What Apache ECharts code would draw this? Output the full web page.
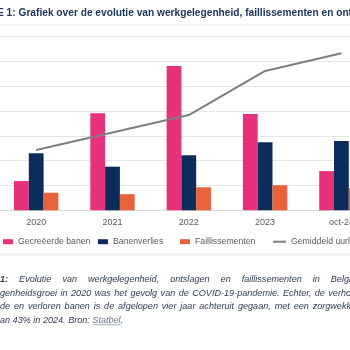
<!DOCTYPE html>
<html><head><meta charset="utf-8">
<script src="https://cdn.jsdelivr.net/npm/echarts@6/dist/echarts.min.js"></script>
<style>html,body{margin:0;padding:0;background:#fff;overflow:hidden}#c{width:350px;height:350px}</style>
</head><body><div id="c"></div>
<script>
// ---- data ----
const categories = ['2020', '2021', '2022', '2023', 'oct-24'];
const createdJobs = [11.8, 39.1, 58.2, 38.8, 15.8];
const jobLoss = [23.0, 17.6, 22.2, 27.4, 27.9];
const bankruptcies = [7.1, 6.5, 9.3, 10.1, 9.0];
const averageLine = [24.3, 31.4, 38.4, 56.2, 63.3];
const seriesNames = ['Gecreëerde banen', 'Banenverlies', 'Faillissementen', 'Gemiddeld uurloon'];
const yMin = 0, yMax = 70, yInterval = 10;

const titleText = 'E 1: Grafiek over de evolutie van werkgelegenheid, faillissementen en ontslagen';
const titleVisible = 'E 1: Grafiek over de evolutie van werkgelegenheid, faillissementen en on';
const captionLines = [
  {words: ['1:', 'Evolutie', 'van', 'werkgelegenheid,', 'ontslagen', 'en', 'faillissementen', 'in', 'België.'], lastVisible: 'Belgi'},
  {words: 'genheidsgroei in 2020 was het gevolg van de COVID-19-pandemie. Echter, de verhouding'.split(' '), lastVisible: 'verho'},
  {words: 'de en verloren banen is de afgelopen vier jaar achteruit gegaan, met een zorgwekkende'.split(' '), lastVisible: 'zorgwekk'}
];
const captionLast = 'an 43% in 2024. Bron: ';
const captionLink = 'Statbel';

// ---- colours ----
const C_PINK = '#E6327B', C_NAVY = '#0C2D5B', C_ORANGE = '#E8623B', C_LINE = '#7F7F7F';
const C_TEXT = '#595959', C_CAP = '#2F3B55', C_TITLE = '#1E3760';

const FONT = 'Liberation Sans';
const ctx = document.createElement('canvas').getContext('2d');
function mw(t, font) { ctx.font = font; return ctx.measureText(t).width; }

const graphics = [];
// separators
graphics.push({type: 'rect', shape: {x: 0, y: 24.5, width: 350, height: 1.2}, style: {fill: '#ECECEC'}, silent: true});
graphics.push({type: 'rect', shape: {x: 0, y: 253.5, width: 350, height: 2}, style: {fill: '#EEEEEE'}, silent: true});

// title fitted to visible width
const tW = mw(titleVisible, 'bold 10px "' + FONT + '"');
const tSize = 10 * 352 / tW;
graphics.push({type: 'text', x: -3, y: 13, style: {text: titleText, font: 'bold ' + tSize.toFixed(2) + 'px "' + FONT + '"', fill: C_TITLE, verticalAlign: 'middle'}, silent: true});

// caption
const capSize = 9 * 123.3 / mw(captionLast + captionLink + '.', 'italic 9px "' + FONT + '"');
const capFont = 'italic ' + capSize.toFixed(2) + 'px "' + FONT + '"';
const capBold = 'italic bold ' + capSize.toFixed(2) + 'px "' + FONT + '"';
const capY = [279, 293, 306.6, 320.2];
captionLines.forEach((ln, i) => {
  const fonts = ln.words.map((w, j) => (i === 0 && j === 0) ? capBold : capFont);
  const widths = ln.words.map((w, j) => mw(w, fonts[j]));
  const n = ln.words.length;
  const lastStart = 351 - mw(ln.lastVisible, capFont);
  let inner = 0;
  for (let j = 0; j < n - 1; j++) inner += widths[j];
  const gap = (lastStart - 0 - inner) / (n - 1);
  let x = 0;
  for (let j = 0; j < n; j++) {
    graphics.push({type: 'text', x: x, y: capY[i], style: {text: ln.words[j], font: fonts[j], fill: C_CAP, verticalAlign: 'middle'}, silent: true});
    x += widths[j] + gap;
  }
});
const lastW = mw(captionLast, capFont);
const linkW = mw(captionLink, capFont);
graphics.push({type: 'text', x: 0, y: capY[3], style: {text: captionLast, font: capFont, fill: C_CAP, verticalAlign: 'middle'}, silent: true});
graphics.push({type: 'text', x: lastW, y: capY[3], style: {text: captionLink, font: capFont, fill: '#6B7890', verticalAlign: 'middle'}, silent: true});
graphics.push({type: 'rect', shape: {x: lastW, y: capY[3] + 4.2, width: linkW, height: 0.8}, style: {fill: '#8C96A8'}, silent: true});
graphics.push({type: 'text', x: lastW + linkW, y: capY[3], style: {text: '.', font: capFont, fill: C_CAP, verticalAlign: 'middle'}, silent: true});

const legendBase = {top: 235.7, padding: 0, itemHeight: 5, itemWidth: 10, selectedMode: false,
  textStyle: {fontFamily: FONT, fontSize: 8.7, color: C_TEXT, lineHeight: 12}};
const chart = echarts.init(document.getElementById('c'), null, {renderer: 'canvas'});
chart.setOption({
  animation: false,
  backgroundColor: '#fff',
  grid: {left: -1.95, right: -29.55, top: 36.7, bottom: 139.7, containLabel: false, outerBoundsMode: 'none'},
  legend: [
    Object.assign({}, legendBase, {data: [{name: seriesNames[0], icon: 'rect'}], left: 3}),
    Object.assign({}, legendBase, {data: [{name: seriesNames[1], icon: 'rect'}], left: 98}),
    Object.assign({}, legendBase, {data: [{name: seriesNames[2], icon: 'rect'}], left: 180}),
    Object.assign({}, legendBase, {data: [{name: seriesNames[3], icon: 'rect'}], left: 273, itemWidth: 13, itemHeight: 2})
  ],
  xAxis: {
    type: 'category', data: categories,
    axisLine: {lineStyle: {color: '#D9D9D9', width: 1}},
    axisTick: {show: false},
    axisLabel: {color: C_TEXT, fontFamily: FONT, fontSize: 9, margin: 8}
  },
  yAxis: {
    type: 'value', min: yMin, max: yMax, interval: yInterval,
    axisLabel: {show: false}, axisLine: {show: false}, axisTick: {show: false},
    splitLine: {lineStyle: {color: '#E6E6E6', width: 1}}
  },
  series: [
    {name: seriesNames[0], type: 'bar', data: createdJobs, barWidth: 14.8, barGap: '0%', itemStyle: {color: C_PINK}},
    {name: seriesNames[1], type: 'bar', data: jobLoss, barWidth: 14.8, barGap: '0%', itemStyle: {color: C_NAVY}},
    {name: seriesNames[2], type: 'bar', data: bankruptcies, barWidth: 14.8, barGap: '0%', itemStyle: {color: C_ORANGE}},
    {name: seriesNames[3], type: 'line', data: averageLine, symbol: 'none', clip: false,
      lineStyle: {color: C_LINE, width: 2}, itemStyle: {color: C_LINE}}
  ],
  graphic: graphics
});
</script></body></html>
